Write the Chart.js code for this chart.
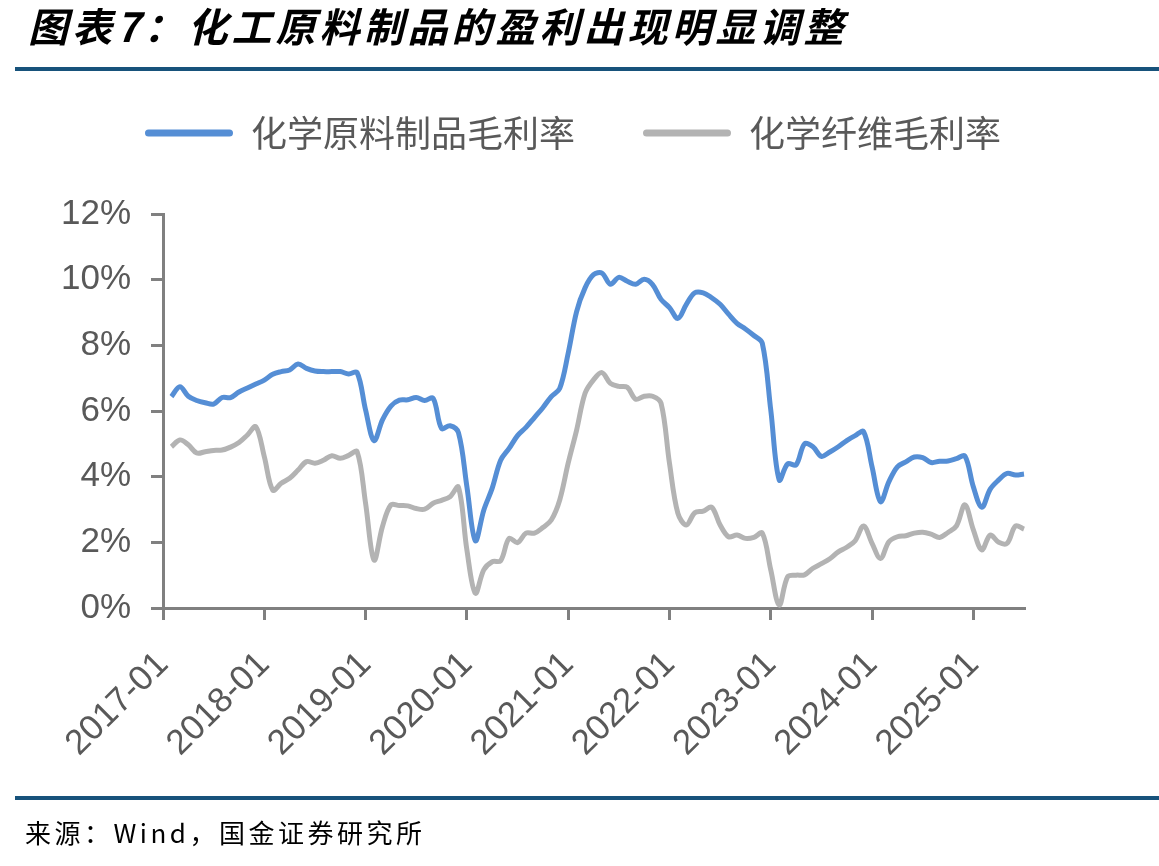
<!DOCTYPE html>
<html>
<head>
<meta charset="utf-8">
<script src="https://cdn.jsdelivr.net/npm/chart.js@4.4.0/dist/chart.umd.min.js"></script>
<style>
  body { margin: 0; background: #fff; width: 1159px; height: 866px; position: relative; overflow: hidden; font-family: "Noto Sans CJK SC", sans-serif; }
  #title { position: absolute; left: 28px; top: -4px; font-size: 40px; font-weight: bold; font-style: italic; letter-spacing: 4px; color: #000; white-space: nowrap; }
  .rule { position: absolute; left: 15px; right: 0; height: 4px; background: #17527b; }
  #src { position: absolute; left: 25px; top: 813px; font-size: 26px; letter-spacing: 3.5px; color: #000; white-space: nowrap; }
  #chart { position: absolute; left: 0; top: 0; }
</style>
</head>
<body>
<canvas id="chart" width="1159" height="866"></canvas>
<div id="title">图表7：化工原料制品的盈利出现明显调整</div>
<div class="rule" style="top:67px"></div>
<div class="rule" style="top:796px"></div>
<div id="src">来源：Wind，国金证券研究所</div>
<script>
// 月份 2017-01 .. 2025-07
const months = [];
for (let y = 2017; y <= 2025; y++) {
  for (let m = 1; m <= 12; m++) {
    months.push(y + '-' + (m < 10 ? '0' + m : m));
  }
}
const labels = months.slice(0, 103);

const seriesNames = ['化学原料制品毛利率', '化学纤维毛利率'];

// 化学原料制品毛利率 (%)
const rawMaterial = [
  null, 6.44, 6.74, 6.45, 6.32, 6.25, 6.21, 6.41, 6.41, 6.58, 6.70, 6.82,
  6.94, 7.12, 7.20, 7.25, 7.43, 7.30, 7.22, 7.20, 7.20, 7.20, 7.13, 7.17,
  6.03, 5.10, 5.73, 6.15, 6.33, 6.34, 6.41, 6.32, 6.39, 5.47, 5.55, 5.34,
  3.70, 2.05, 2.98, 3.65, 4.50, 4.86, 5.25, 5.50, 5.80, 6.10, 6.44, 6.69,
  7.76, 9.03, 9.75, 10.15, 10.20, 9.86, 10.07, 9.95, 9.86, 10.01, 9.85, 9.40,
  9.15, 8.82, 9.25, 9.60, 9.60, 9.45, 9.25, 8.95, 8.67, 8.50, 8.30, 8.06,
  6.03, 3.90, 4.39, 4.36, 5.00, 4.91, 4.62, 4.75, 4.91, 5.10, 5.25, 5.37,
  4.30, 3.24, 3.85, 4.30, 4.45, 4.60, 4.58, 4.43, 4.47, 4.48, 4.55, 4.63,
  3.69, 3.07, 3.62, 3.90, 4.10, 4.05, 4.08
];

// 化学纤维毛利率 (%)
const chemFiber = [
  null, 4.91, 5.12, 4.97, 4.72, 4.76, 4.80, 4.81, 4.90, 5.04, 5.27, 5.52,
  4.61, 3.59, 3.80, 3.95, 4.20, 4.46, 4.41, 4.50, 4.64, 4.56, 4.65, 4.76,
  3.19, 1.46, 2.48, 3.14, 3.12, 3.11, 3.03, 3.01, 3.19, 3.28, 3.39, 3.68,
  1.77, 0.45, 1.16, 1.41, 1.44, 2.12, 1.99, 2.28, 2.28, 2.45, 2.68, 3.29,
  4.41, 5.42, 6.54, 6.95, 7.17, 6.84, 6.75, 6.72, 6.36, 6.45, 6.45, 6.24,
  4.41, 2.88, 2.53, 2.90, 2.95, 3.07, 2.53, 2.17, 2.22, 2.12, 2.15, 2.28,
  1.16, 0.09, 0.95, 1.00, 1.01, 1.21, 1.35, 1.50, 1.71, 1.85, 2.05, 2.50,
  1.97, 1.51, 2.02, 2.17, 2.20, 2.28, 2.31, 2.25, 2.15, 2.30, 2.50, 3.14,
  2.38, 1.77, 2.22, 2.00, 1.97, 2.50, 2.40
];

const yTicks = [0, 2, 4, 6, 8, 10, 12];

const axisGray = '#808080';
const textGray = '#595959';
const numFont = { family: '"Liberation Sans", Arial, sans-serif', size: 35 };

// 图例下方留白，图例横向位置
const legendGap = {
  id: 'legendGap',
  beforeInit(chart) {
    const fit = chart.legend.fit;
    chart.legend.fit = function () {
      fit.bind(chart.legend)();
      this.height = 214 - 47;
    };
  },
  afterLayout(chart) {
    chart.legend.left = 46;
    chart.legend.right = 1100;
  }
};

new Chart(document.getElementById('chart'), {
  type: 'line',
  data: {
    labels: labels,
    datasets: [{
      label: seriesNames[0],
      data: rawMaterial,
      borderColor: '#558ED5',
      backgroundColor: '#558ED5',
      borderWidth: 5,
      pointRadius: 0,
      tension: 0.35
    }, {
      label: seriesNames[1],
      data: chemFiber,
      borderColor: '#B3B3B3',
      backgroundColor: '#B3B3B3',
      borderWidth: 5,
      pointRadius: 0,
      tension: 0.35
    }]
  },
  options: {
    responsive: false,
    animation: false,
    layout: { padding: { left: 0, right: 135, top: 47, bottom: 0 } },
    plugins: {
      tooltip: { enabled: false },
      legend: {
        position: 'top',
        labels: {
          font: { family: '"Noto Sans CJK SC", sans-serif', size: 36 },
          color: textGray,
          boxWidth: 88,
          boxHeight: 7,
          padding: 68,
          useBorderRadius: true,
          borderRadius: 3.5,
          generateLabels(chart) {
            const items = Chart.defaults.plugins.legend.labels.generateLabels(chart);
            items.forEach(it => { it.lineWidth = 0; });
            return items;
          }
        }
      }
    },
    scales: {
      x: {
        type: 'category',
        grid: { display: true, drawOnChartArea: false, drawTicks: true, tickLength: 12, tickWidth: 3, tickColor: axisGray, lineWidth: 3, color: axisGray },
        border: { display: true, color: axisGray, width: 3 },
        ticks: {
          autoSkip: false,
          maxRotation: 45,
          minRotation: 45,
          padding: 24,
          font: numFont,
          color: textGray,
          callback: function (v, i) {
            return i % 12 === 0 ? this.getLabelForValue(v) : null;
          }
        },
        afterFit(s) {
          s.paddingLeft = 0;
          s.paddingRight = 0;
          s.height = 866 - 608;
        }
      },
      y: {
        min: 0,
        max: 12,
        afterBuildTicks(s) { s.ticks = yTicks.map(v => ({ value: v })); },
        grid: { display: true, drawOnChartArea: false, drawTicks: true, tickLength: 12, tickWidth: 3, tickColor: axisGray, lineWidth: 3, color: axisGray },
        border: { display: true, color: axisGray, width: 3 },
        ticks: {
          padding: 20,
          font: numFont,
          color: textGray,
          callback: v => v + '%'
        },
        afterFit(s) {
          s.width = 163;
          s.paddingTop = 0;
          s.paddingBottom = 0;
        }
      }
    }
  },
  plugins: [legendGap]
});
</script>
</body>
</html>
